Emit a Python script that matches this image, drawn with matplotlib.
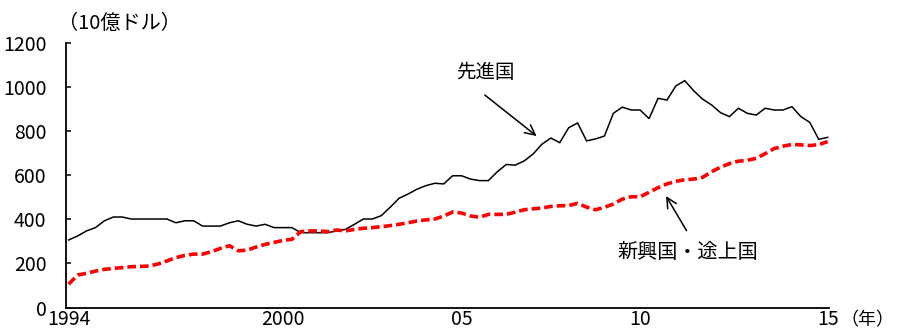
import matplotlib
matplotlib.use("Agg")
import matplotlib.pyplot as plt
import numpy as np

plt.rcParams['font.family'] = ['Noto Sans CJK JP', 'DejaVu Sans']

# Quarterly data, 1994Q1 .. 2015Q2 (billion USD)
quarters = [f"{y}Q{q}" for y in range(1994, 2016) for q in range(1, 5)][:86]

advanced = [306, 324, 347, 362, 393, 410, 410, 401, 401, 401, 401, 401, 384, 393, 393, 369,
            369, 369, 384, 393, 377, 369, 377, 362, 362, 362, 339, 339, 339, 339, 347, 354,
            377, 401, 401, 416, 454, 495, 514, 536, 552, 563, 560, 597, 597, 582, 575, 575,
            615, 648, 645, 664, 695, 740, 768, 747, 815, 836, 755, 764, 777, 880, 908, 895,
            895, 856, 948, 940, 1004, 1028, 982, 944, 918, 883, 865, 903, 880, 872, 903, 895,
            895, 910, 865, 839, 762, 771]

emerging = [106, 147, 155, 165, 173, 177, 181, 185, 186, 188, 197, 211, 226, 236, 242, 242,
            253, 268, 280, 257, 260, 274, 286, 295, 304, 309, 344, 347, 347, 344, 351, 347,
            354, 359, 362, 366, 371, 377, 384, 392, 397, 401, 414, 433, 428, 415, 409, 422,
            422, 422, 432, 443, 447, 451, 458, 461, 462, 472, 455, 443, 454, 469, 491, 502,
            502, 522, 543, 560, 572, 579, 582, 590, 615, 636, 652, 663, 667, 676, 697, 720,
            731, 739, 737, 734, 738, 752]

xtick_quarters = ["1994Q1", "2000Q1", "2005Q1", "2010Q1", "2015Q2"]
xtick_labels = ["1994", "2000", "05", "10", "15"]
yticks = [0, 200, 400, 600, 800, 1000, 1200]

x = np.arange(len(quarters))

fig = plt.figure(figsize=(8.97, 3.34), dpi=100)
ax = fig.add_axes([66/897, 1-307.5/334, (829-66)/897, (307.5-42.7)/334])

ax.plot(x, advanced, color='black', lw=1.1, solid_joinstyle='miter')
ax.plot(x, emerging, color='#FF0000', lw=2.6, dashes=(2.4, 1.1))

ax.set_xlim(-0.3, 85.15)
ax.set_ylim(0, 1200)
ax.set_yticks(yticks)
ax.set_yticklabels([str(v) for v in yticks])
ax.set_xticks([quarters.index(q) for q in xtick_quarters])
ax.set_xticklabels(xtick_labels)

for s in ['top', 'right']:
    ax.spines[s].set_visible(False)
for s in ['left', 'bottom']:
    ax.spines[s].set_linewidth(1.3)
ax.tick_params(axis='y', direction='in', length=3.5, width=1.1, labelsize=14, pad=14)
ax.tick_params(axis='x', length=0, labelsize=14, pad=1)

ax.annotate('', xy=(52.4, 777), xytext=(46.6, 963),
            arrowprops=dict(arrowstyle='->', color='black', lw=1.1, mutation_scale=18,
                            shrinkA=0, shrinkB=0))
ax.text(46.7, 1067, '先進国', ha='center', va='center', fontsize=14)

ax.annotate('', xy=(66.9, 505), xytext=(69.2, 348),
            arrowprops=dict(arrowstyle='->', color='black', lw=1.1, mutation_scale=18,
                            shrinkA=0, shrinkB=0))
ax.text(69.3, 251, '新興国・途上国', ha='center', va='center', fontsize=14.5)

fig.text(119/897, 1-23/334, '（10億ドル）', ha='center', va='center', fontsize=14.5)
fig.text(894/897, 1-320/334, '（年）', ha='right', va='center', fontsize=13)

fig.savefig('out.png', dpi=100)
